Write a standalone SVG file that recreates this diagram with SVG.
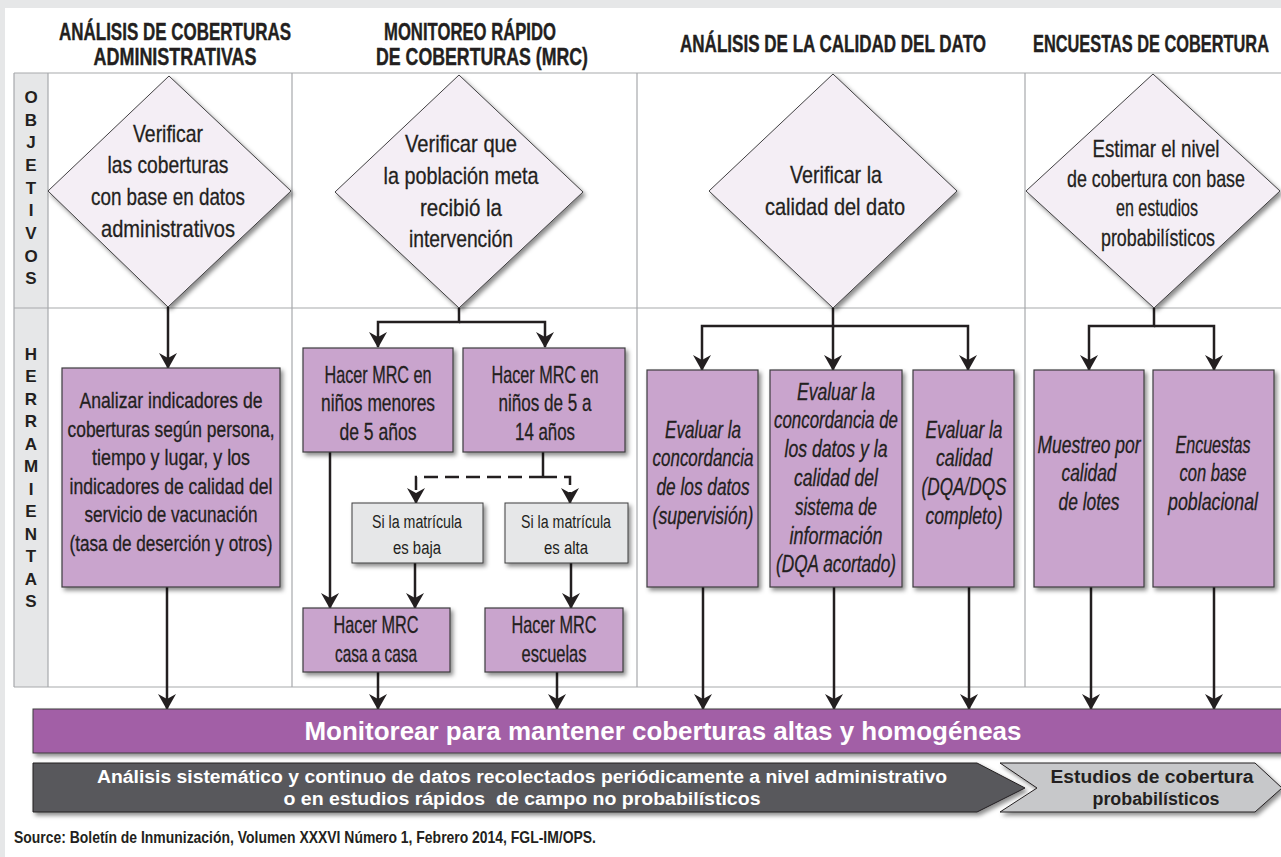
<svg xmlns="http://www.w3.org/2000/svg" width="1281" height="857" viewBox="0 0 1281 857">
<style>
.hdr{font-family:"Liberation Sans",Arial,sans-serif;font-weight:bold;font-size:24px;fill:#231f20;stroke:#231f20;stroke-width:0.4;text-anchor:middle}
.side{font-family:"Liberation Sans",Arial,sans-serif;font-weight:bold;font-size:17px;fill:#231f20;text-anchor:middle}
.t{font-family:"Liberation Sans",Arial,sans-serif;font-size:24px;fill:#231f20;stroke:#231f20;stroke-width:0.3;text-anchor:middle}
.ts{font-family:"Liberation Sans",Arial,sans-serif;font-size:22px;fill:#231f20;stroke:#231f20;stroke-width:0.3;text-anchor:middle}
.tg{font-family:"Liberation Sans",Arial,sans-serif;font-size:18px;fill:#231f20;text-anchor:middle}
.ti{font-family:"Liberation Sans",Arial,sans-serif;font-style:italic;font-size:23px;fill:#231f20;stroke:#231f20;stroke-width:0.3;text-anchor:middle}
.bar{font-family:"Liberation Sans",Arial,sans-serif;font-weight:bold;font-size:25px;fill:#ffffff;text-anchor:middle}
.arw{font-family:"Liberation Sans",Arial,sans-serif;font-weight:bold;font-size:18px;text-anchor:middle}
.src{font-family:"Liberation Sans",Arial,sans-serif;font-weight:bold;font-size:17px;fill:#231f20}
.grid{stroke:#a7a9ac;stroke-width:1.2;fill:none}
.dia{fill:#f4eef5;stroke:#414042;stroke-width:1;filter:url(#sh)}
.box{fill:#c9a4cd;stroke:#3d3d3f;stroke-width:1.2;filter:url(#sh)}
.gbox{fill:#e6e7e8;stroke:#3d3d3f;stroke-width:1;filter:url(#sh)}
.con{stroke:#231f20;stroke-width:2.5;fill:none}
.arr{marker-end:url(#ah)}
.dash{stroke-dasharray:14 7}
</style>
<defs>
<filter id="sh" x="-10%" y="-10%" width="130%" height="130%">
<feDropShadow dx="2.5" dy="3" stdDeviation="2" flood-color="#000" flood-opacity="0.45"/>
</filter>
<marker id="ah" markerUnits="userSpaceOnUse" viewBox="0 0 16 18" markerWidth="16" markerHeight="18" refX="15" refY="9" orient="auto">
<path d="M0,0 L16,9 L0,18 L5,9 z" fill="#231f20"/>
</marker>
</defs>

<rect x="0" y="0" width="1281" height="857" fill="#e6e7e8"/>
<rect x="5" y="8" width="1276" height="849" fill="#ffffff"/>

<g id="headers">
<text class="hdr" x="175" y="40" textLength="232" lengthAdjust="spacingAndGlyphs">ANÁLISIS DE COBERTURAS</text>
<text class="hdr" x="175" y="65" textLength="163" lengthAdjust="spacingAndGlyphs">ADMINISTRATIVAS</text>
<text class="hdr" x="470" y="40" textLength="172" lengthAdjust="spacingAndGlyphs">MONITOREO RÁPIDO</text>
<text class="hdr" x="482" y="65" textLength="212" lengthAdjust="spacingAndGlyphs">DE COBERTURAS (MRC)</text>
<text class="hdr" x="833" y="52" textLength="306" lengthAdjust="spacingAndGlyphs">ANÁLISIS DE LA CALIDAD DEL DATO</text>
<text class="hdr" x="1151" y="52" textLength="236" lengthAdjust="spacingAndGlyphs">ENCUESTAS DE COBERTURA</text>
</g>

<g id="table">
<rect x="14" y="73" width="34" height="614" fill="#e6e7e8"/>
<path class="grid" d="M14,73 H1281 M14,308 H1281 M14,687 H1281 M14,73 V687 M48,73 V687 M292,73 V687 M637,73 V687 M1025,73 V687"/>
</g>

<g id="sidebar">
<text class="side" x="31" y="103">O</text>
<text class="side" x="31" y="126">B</text>
<text class="side" x="31" y="148">J</text>
<text class="side" x="31" y="171">E</text>
<text class="side" x="31" y="194">T</text>
<text class="side" x="31" y="216">I</text>
<text class="side" x="31" y="239">V</text>
<text class="side" x="31" y="262">O</text>
<text class="side" x="31" y="284">S</text>
<text class="side" x="31" y="360">H</text>
<text class="side" x="31" y="382">E</text>
<text class="side" x="31" y="405">R</text>
<text class="side" x="31" y="427">R</text>
<text class="side" x="31" y="450">A</text>
<text class="side" x="31" y="472">M</text>
<text class="side" x="31" y="495">I</text>
<text class="side" x="31" y="517">E</text>
<text class="side" x="31" y="540">N</text>
<text class="side" x="31" y="562">T</text>
<text class="side" x="31" y="585">A</text>
<text class="side" x="31" y="607">S</text>
</g>

<g id="connectors">
<path class="con arr" d="M168,307 V368"/>
<path class="con arr" d="M459,308 V322 H378 V347"/>
<path class="con arr" d="M459,322 H545 V347"/>
<path class="con" d="M543,452 V477"/>
<path class="con dash arr" d="M543,477 H416 V503"/>
<path class="con dash arr" d="M543,477 H570 V503"/>
<path class="con arr" d="M330,452 V608"/>
<path class="con arr" d="M415,563 V608"/>
<path class="con arr" d="M571,563 V608"/>
<path class="con arr" d="M378,672 V709"/>
<path class="con arr" d="M557,672 V709"/>
<path class="con arr" d="M167,587 V709"/>
<path class="con arr" d="M833,308 V326 H702 V370"/>
<path class="con arr" d="M833,326 V370"/>
<path class="con arr" d="M833,326 H968 V370"/>
<path class="con arr" d="M703,587 V709"/>
<path class="con arr" d="M834,587 V709"/>
<path class="con arr" d="M969,587 V709"/>
<path class="con arr" d="M1154,308 V326 H1089 V370"/>
<path class="con arr" d="M1154,326 H1214 V370"/>
<path class="con arr" d="M1091,587 V709"/>
<path class="con arr" d="M1214,587 V709"/>
</g>

<g id="obj1">
<polygon class="dia" points="169,76 291,191 168,307 48,191"/>
<text class="t" x="168" y="142" textLength="70" lengthAdjust="spacingAndGlyphs">Verificar</text>
<text class="t" x="168" y="173" textLength="121" lengthAdjust="spacingAndGlyphs">las coberturas</text>
<text class="t" x="168" y="205" textLength="154" lengthAdjust="spacingAndGlyphs">con base en datos</text>
<text class="t" x="168" y="237" textLength="134" lengthAdjust="spacingAndGlyphs">administrativos</text>
</g>

<g id="obj2">
<polygon class="dia" points="459,75 583,192 459,308 335,192"/>
<text class="t" x="461" y="152" textLength="112" lengthAdjust="spacingAndGlyphs">Verificar que</text>
<text class="t" x="461" y="184" textLength="155" lengthAdjust="spacingAndGlyphs">la población meta</text>
<text class="t" x="461" y="216" textLength="82" lengthAdjust="spacingAndGlyphs">recibió la</text>
<text class="t" x="461" y="247" textLength="104" lengthAdjust="spacingAndGlyphs">intervención</text>
</g>

<g id="obj3">
<polygon class="dia" points="833,74 957,191 833,308 709,191"/>
<text class="t" x="836" y="183" textLength="92" lengthAdjust="spacingAndGlyphs">Verificar la</text>
<text class="t" x="835" y="215" textLength="140" lengthAdjust="spacingAndGlyphs">calidad del dato</text>
</g>

<g id="obj4">
<polygon class="dia" points="1153,74 1280,191 1154,308 1026,191"/>
<text class="t" font-size="22" x="1156" y="157" textLength="127" lengthAdjust="spacingAndGlyphs">Estimar el nivel</text>
<text class="t" font-size="22" x="1156" y="187" textLength="178" lengthAdjust="spacingAndGlyphs">de cobertura con base</text>
<text class="t" font-size="22" x="1157" y="216" textLength="82" lengthAdjust="spacingAndGlyphs">en estudios</text>
<text class="t" font-size="22" x="1158" y="246" textLength="114" lengthAdjust="spacingAndGlyphs">probabilísticos</text>
</g>

<g id="tool1">
<rect class="box" x="62" y="368" width="218" height="219"/>
<text class="ts" x="171" y="408" textLength="183" lengthAdjust="spacingAndGlyphs">Analizar indicadores de</text>
<text class="ts" x="171" y="437" textLength="207" lengthAdjust="spacingAndGlyphs">coberturas según persona,</text>
<text class="ts" x="171" y="465" textLength="158" lengthAdjust="spacingAndGlyphs">tiempo y lugar, y los</text>
<text class="ts" x="171" y="494" textLength="203" lengthAdjust="spacingAndGlyphs">indicadores de calidad del</text>
<text class="ts" x="171" y="522" textLength="173" lengthAdjust="spacingAndGlyphs">servicio de vacunación</text>
<text class="ts" x="171" y="551" textLength="203" lengthAdjust="spacingAndGlyphs">(tasa de deserción y otros)</text>
</g>

<g id="mrc1">
<rect class="box" x="303" y="348" width="150" height="104"/>
<text class="t" x="378" y="383" textLength="107" lengthAdjust="spacingAndGlyphs">Hacer MRC en</text>
<text class="t" x="378" y="411" textLength="114" lengthAdjust="spacingAndGlyphs">niños menores</text>
<text class="t" x="378" y="440" textLength="77" lengthAdjust="spacingAndGlyphs">de 5 años</text>
</g>

<g id="mrc2">
<rect class="box" x="463" y="348" width="162" height="104"/>
<text class="t" x="545" y="383" textLength="107" lengthAdjust="spacingAndGlyphs">Hacer MRC en</text>
<text class="t" x="545" y="411" textLength="93" lengthAdjust="spacingAndGlyphs">niños de 5 a</text>
<text class="t" x="545" y="440" textLength="60" lengthAdjust="spacingAndGlyphs">14 años</text>
</g>

<g id="baja">
<rect class="gbox" x="352" y="503" width="131" height="60"/>
<text class="tg" x="417" y="528" textLength="90" lengthAdjust="spacingAndGlyphs">Si la matrícula</text>
<text class="tg" x="417" y="554" textLength="48" lengthAdjust="spacingAndGlyphs">es baja</text>
</g>

<g id="alta">
<rect class="gbox" x="505" y="503" width="123" height="60"/>
<text class="tg" x="566" y="528" textLength="90" lengthAdjust="spacingAndGlyphs">Si la matrícula</text>
<text class="tg" x="566" y="554" textLength="44" lengthAdjust="spacingAndGlyphs">es alta</text>
</g>

<g id="casa">
<rect class="box" x="303" y="608" width="147" height="64"/>
<text class="t" x="376" y="633" textLength="85" lengthAdjust="spacingAndGlyphs">Hacer MRC</text>
<text class="t" x="376" y="662" textLength="82" lengthAdjust="spacingAndGlyphs">casa a casa</text>
</g>

<g id="escuelas">
<rect class="box" x="485" y="608" width="138" height="64"/>
<text class="t" x="554" y="633" textLength="85" lengthAdjust="spacingAndGlyphs">Hacer MRC</text>
<text class="t" x="554" y="662" textLength="65" lengthAdjust="spacingAndGlyphs">escuelas</text>
</g>

<g id="eval1">
<rect class="box" x="647" y="370" width="111" height="217"/>
<text class="ti" x="703" y="438" textLength="76" lengthAdjust="spacingAndGlyphs">Evaluar la</text>
<text class="ti" x="703" y="466" textLength="101" lengthAdjust="spacingAndGlyphs">concordancia</text>
<text class="ti" x="703" y="495" textLength="93" lengthAdjust="spacingAndGlyphs">de los datos</text>
<text class="ti" x="703" y="524" textLength="101" lengthAdjust="spacingAndGlyphs">(supervisión)</text>
</g>

<g id="eval2">
<rect class="box" x="770" y="370" width="132" height="217"/>
<text class="ti" x="836" y="400" textLength="78" lengthAdjust="spacingAndGlyphs">Evaluar la</text>
<text class="ti" x="836" y="428" textLength="124" lengthAdjust="spacingAndGlyphs">concordancia de</text>
<text class="ti" x="836" y="457" textLength="103" lengthAdjust="spacingAndGlyphs">los datos y la</text>
<text class="ti" x="836" y="486" textLength="84" lengthAdjust="spacingAndGlyphs">calidad del</text>
<text class="ti" x="836" y="515" textLength="82" lengthAdjust="spacingAndGlyphs">sistema de</text>
<text class="ti" x="836" y="544" textLength="93" lengthAdjust="spacingAndGlyphs">información</text>
<text class="ti" x="836" y="572" textLength="120" lengthAdjust="spacingAndGlyphs">(DQA acortado)</text>
</g>

<g id="eval3">
<rect class="box" x="913" y="370" width="101" height="217"/>
<text class="ti" x="964" y="438" textLength="77" lengthAdjust="spacingAndGlyphs">Evaluar la</text>
<text class="ti" x="964" y="466" textLength="56" lengthAdjust="spacingAndGlyphs">calidad</text>
<text class="ti" x="964" y="495" textLength="85" lengthAdjust="spacingAndGlyphs">(DQA/DQS</text>
<text class="ti" x="964" y="524" textLength="77" lengthAdjust="spacingAndGlyphs">completo)</text>
</g>

<g id="lotes">
<rect class="box" x="1034" y="370" width="110" height="217"/>
<text class="ti" x="1089" y="453" textLength="103" lengthAdjust="spacingAndGlyphs">Muestreo por</text>
<text class="ti" x="1089" y="481" textLength="55" lengthAdjust="spacingAndGlyphs">calidad</text>
<text class="ti" x="1089" y="510" textLength="61" lengthAdjust="spacingAndGlyphs">de lotes</text>
</g>

<g id="poblacional">
<rect class="box" x="1153" y="370" width="121" height="217"/>
<text class="ti" x="1213" y="453" textLength="75" lengthAdjust="spacingAndGlyphs">Encuestas</text>
<text class="ti" x="1213" y="481" textLength="67" lengthAdjust="spacingAndGlyphs">con base</text>
<text class="ti" x="1213" y="510" textLength="90" lengthAdjust="spacingAndGlyphs">poblacional</text>
</g>

<g id="monitorear">
<rect x="33" y="709" width="1260" height="44" fill="#a25ea6" stroke="#3d3d3f" stroke-width="1" filter="url(#sh)"/>
<text class="bar" x="663" y="740" textLength="717" lengthAdjust="spacingAndGlyphs">Monitorear para mantener coberturas altas y homogéneas</text>
</g>

<g id="analisis">
<polygon points="33,763 977,763 1025,788 977,812 33,812" fill="#58595b" stroke="#231f20" stroke-width="1" filter="url(#sh)"/>
<text class="arw" fill="#ffffff" x="522" y="783" textLength="850" lengthAdjust="spacingAndGlyphs">Análisis sistemático y continuo de datos recolectados periódicamente a nivel administrativo</text>
<text class="arw" fill="#ffffff" x="522" y="805" textLength="477" lengthAdjust="spacingAndGlyphs" xml:space="preserve">o en estudios rápidos  de campo no probabilísticos</text>
</g>

<g id="estudios">
<polygon points="1000,763 1255,763 1282,788 1255,812 1000,812 1037,788" fill="#c7c8ca" stroke="#231f20" stroke-width="1" filter="url(#sh)"/>
<text class="arw" fill="#231f20" x="1152" y="783" textLength="203" lengthAdjust="spacingAndGlyphs">Estudios de cobertura</text>
<text class="arw" fill="#231f20" x="1156" y="805" textLength="127" lengthAdjust="spacingAndGlyphs">probabilísticos</text>
</g>

<text class="src" x="14" y="843" textLength="582" lengthAdjust="spacingAndGlyphs">Source: Boletín de Inmunización, Volumen XXXVI Número 1, Febrero 2014, FGL-IM/OPS.</text>
</svg>
